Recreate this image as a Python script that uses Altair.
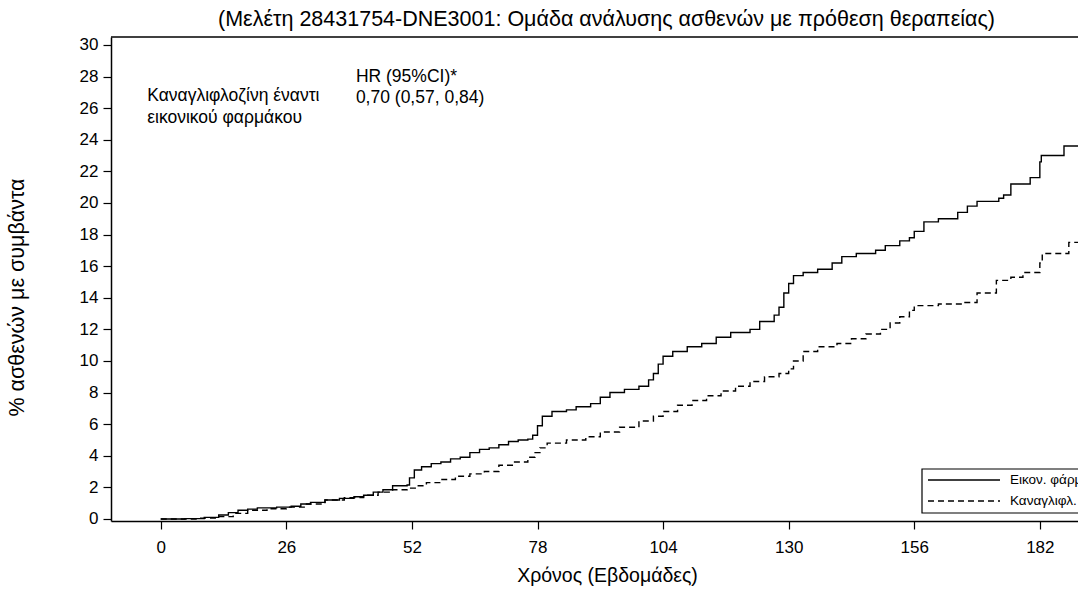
import altair as alt
import pandas as pd

# ---- data ----
series_names = ["Εικον. φάρμακο", "Καναγλιφλ. 100/300 mg"]

placebo_weeks = [0, 5, 9, 12, 14, 16, 18, 20, 24, 27, 29, 31, 34, 37, 40, 42, 44, 46, 48, 51,
                 51.5, 52.5, 54, 56, 58, 60, 62, 64, 66, 68, 70, 72, 74, 76, 77, 78, 79, 81,
                 84, 86, 89, 91, 93, 96, 99, 101, 102, 103, 104, 106, 109, 112, 115, 118, 122,
                 124, 127, 128, 129, 130, 131, 133, 136, 139, 141, 144, 148, 150, 153, 155, 156,
                 158, 161, 165, 167, 169, 173.5, 174.5, 176, 180, 182, 182.3, 187, 195]
placebo_pct = [0, 0.02, 0.1, 0.25, 0.4, 0.55, 0.62, 0.7, 0.75, 0.8, 0.95, 1.05, 1.2, 1.3, 1.4, 1.5,
               1.7, 1.85, 2.1, 2.15, 2.6, 3.1, 3.3, 3.5, 3.6, 3.8, 3.9, 4.2, 4.4, 4.5, 4.7, 4.9,
               5.0, 5.05, 5.3, 5.9, 6.5, 6.8, 6.9, 7.1, 7.3, 7.7, 8.0, 8.2, 8.4, 8.8, 9.2, 9.8,
               10.3, 10.6, 10.9, 11.1, 11.5, 11.8, 12.0, 12.5, 12.9, 13.4, 14.3, 14.9, 15.4, 15.6,
               15.8, 16.2, 16.6, 16.8, 17.0, 17.3, 17.6, 17.8, 18.2, 18.8, 19.0, 19.4, 19.8, 20.1,
               20.3, 20.5, 21.2, 21.6, 22.6, 23.0, 23.6, 23.6]

cana_weeks = [0, 8, 12, 15, 18, 22, 26, 30, 34, 38, 42, 45, 48, 51, 53, 55, 58, 61, 64, 67, 70,
              73, 76, 77.5, 78.5, 80, 84, 88, 91, 95, 99, 102, 104, 107, 110, 113, 116, 119, 122,
              125, 128, 130, 131, 133, 136, 140, 143, 146, 149, 151, 153, 155, 156, 161, 166,
              169, 173, 176, 178.5, 182, 182.5, 188, 195]
cana_pct = [0, 0.05, 0.15, 0.35, 0.55, 0.65, 0.75, 0.95, 1.2, 1.35, 1.5, 1.7, 1.85, 1.95, 2.1, 2.3,
            2.5, 2.7, 2.85, 3.0, 3.4, 3.6, 3.9, 4.2, 4.5, 4.8, 5.0, 5.2, 5.5, 5.8, 6.2, 6.5, 6.8,
            7.2, 7.5, 7.8, 8.1, 8.4, 8.7, 9.0, 9.2, 9.5, 10.0, 10.6, 10.9, 11.1, 11.4, 11.7, 12.0,
            12.4, 12.8, 13.2, 13.5, 13.6, 13.7, 14.3, 15.1, 15.3, 15.6, 16.2, 16.8, 17.5, 17.5]

x_ticks = [0, 26, 52, 78, 104, 130, 156, 182]
y_ticks = list(range(0, 31, 2))

title_text = "(Μελέτη 28431754-DNE3001: Ομάδα ανάλυσης ασθενών με πρόθεση θεραπείας)"
x_title = "Χρόνος (Εβδομάδες)"
y_title = "% ασθενών με συμβάντα"
annot_left = ["Καναγλιφλοζίνη έναντι", "εικονικού φαρμάκου"]
annot_hr = ["HR (95%CI)*", "0,70 (0,57, 0,84)"]

FONT = "Liberation Sans"
W, H = 967, 484

df = pd.concat([
    pd.DataFrame({"week": placebo_weeks, "pct": placebo_pct, "grp": series_names[0]}),
    pd.DataFrame({"week": cana_weeks, "pct": cana_pct, "grp": series_names[1]}),
])

xs = alt.Scale(domain=[-10.3, 189.9], nice=False, zero=False)
ys = alt.Scale(domain=[-0.13, 30.5], nice=False, zero=False)

x_axis = alt.Axis(values=x_ticks, title=x_title, grid=False, tickSize=8, labelPadding=10,
                  titlePadding=11, titleX=496, titleAlign="center",
                  domainColor="black", tickColor="black", labelColor="black",
                  titleColor="black", labelFontSize=17, titleFontSize=19.5, titleFontWeight="normal",
                  labelFont=FONT, titleFont=FONT, domainWidth=1.5, tickWidth=1.2,
                  labelOverlap=False)
y_axis = alt.Axis(values=y_ticks, title=y_title, grid=False, tickSize=8, labelPadding=5,
                  titlePadding=51, titleY=260, titleAlign="center",
                  domainColor="black", tickColor="black", labelColor="black",
                  titleColor="black", labelFontSize=17, titleFontSize=21.5, titleFontWeight="normal",
                  labelFont=FONT, titleFont=FONT, domainWidth=1.5, tickWidth=1.2,
                  labelOverlap=False)

lines = alt.Chart(df).mark_line(interpolate="step-after", color="black", strokeWidth=1.4, clip=True).encode(
    x=alt.X("week:Q", scale=xs, axis=x_axis),
    y=alt.Y("pct:Q", scale=ys, axis=y_axis),
    strokeDash=alt.StrokeDash("grp:N", scale=alt.Scale(domain=series_names, range=[[1, 0], [6, 4]]), legend=None),
    detail="grp:N",
)

ann_df = pd.DataFrame({
    "week": [-2.8, -2.8, 40.4, 40.4],
    "pct": [26.75, 25.4, 28.0, 26.65],
    "txt": annot_left + annot_hr,
})
annots = alt.Chart(ann_df).mark_text(align="left", baseline="middle", fontSize=17.5, font=FONT, color="black").encode(
    x=alt.X("week:Q", scale=xs, axis=x_axis), y=alt.Y("pct:Q", scale=ys, axis=y_axis), text="txt:N"
)

one = pd.DataFrame({"a": [0]})
top_border = alt.Chart(one).mark_rule(color="black", strokeWidth=1.5).encode(
    x=alt.value(0), x2=alt.value(W), y=alt.value(0)
)
leg_box = alt.Chart(one).mark_rect(fill="white", stroke="black", strokeWidth=1.2, clip=True).encode(
    x=alt.value(811), x2=alt.value(1100), y=alt.value(432), y2=alt.value(476)
)
leg_solid = alt.Chart(one).mark_rule(color="black", strokeWidth=1.4).encode(
    x=alt.value(817), x2=alt.value(889), y=alt.value(443)
)
leg_dash = alt.Chart(one).mark_rule(color="black", strokeWidth=1.4, strokeDash=[6, 4]).encode(
    x=alt.value(817), x2=alt.value(889), y=alt.value(464)
)
leg_text = alt.Chart(one).mark_text(
    align="left", baseline="middle", fontSize=13.5, font=FONT, color="black", clip=True
)
leg_text1 = leg_text.encode(x=alt.value(899), y=alt.value(443), text=alt.value(series_names[0]))
leg_text2 = leg_text.encode(x=alt.value(899), y=alt.value(464), text=alt.value(series_names[1]))

chart = alt.layer(lines, annots, top_border, leg_box, leg_solid, leg_dash, leg_text1, leg_text2).properties(
    width=W, height=H,
    title=alt.Title(title_text, fontSize=21.5, font=FONT, fontWeight="normal", color="black",
                    anchor="middle", offset=5, dx=12),
    autosize=alt.AutoSizeParams(type="none"),
    padding={"left": 111, "top": 37, "right": 0, "bottom": 69},
    background="white",
).configure_view(strokeWidth=0).configure_axis(labelOverlap=False)

chart.save("out.html", embed_options={"renderer": "svg", "actions": False})
